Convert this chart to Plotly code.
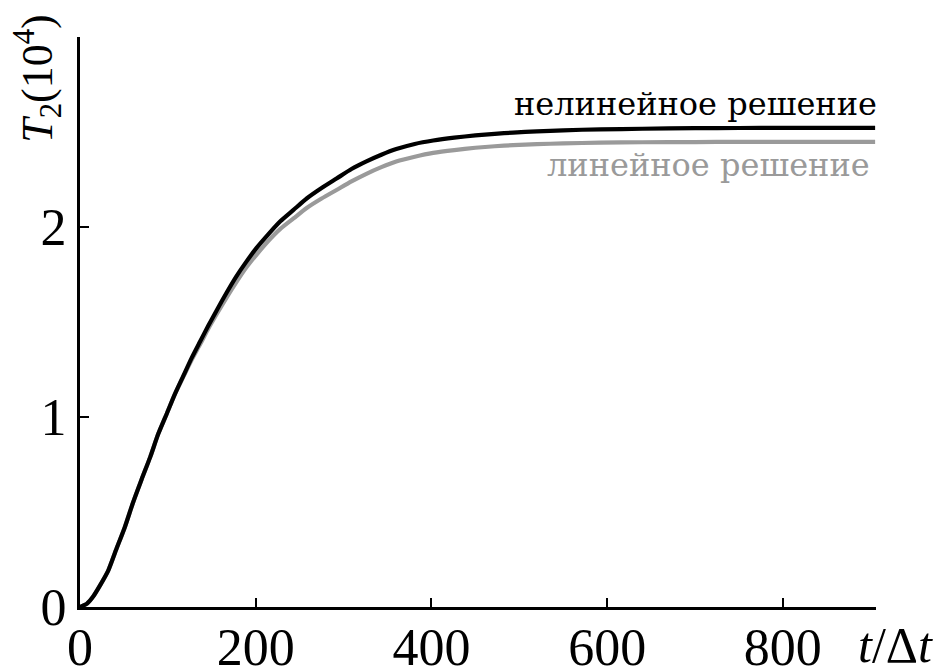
import plotly.graph_objects as go

t_vals = [0, 8, 15, 23, 32, 41, 51, 60, 70, 80, 89, 99, 108, 118, 127, 137, 146, 156, 167, 178, 189, 201, 214, 228, 243, 258, 275, 292, 309, 326, 343, 360, 381, 402, 426, 450, 472, 493, 520, 550, 592, 640, 700, 750, 800, 850, 905]
nonlinear = [0, 0.018, 0.055, 0.115, 0.19, 0.30, 0.42, 0.545, 0.67, 0.79, 0.91, 1.02, 1.12, 1.22, 1.31, 1.40, 1.48, 1.565, 1.655, 1.74, 1.815, 1.89, 1.96, 2.03, 2.09, 2.15, 2.205, 2.255, 2.305, 2.345, 2.38, 2.41, 2.437, 2.455, 2.47, 2.482, 2.49, 2.497, 2.503, 2.509, 2.514, 2.517, 2.520, 2.521, 2.522, 2.522, 2.522]
linear = [0, 0.018, 0.055, 0.115, 0.19, 0.30, 0.42, 0.545, 0.67, 0.79, 0.91, 1.02, 1.12, 1.215, 1.30, 1.385, 1.465, 1.545, 1.63, 1.71, 1.785, 1.855, 1.925, 1.99, 2.045, 2.10, 2.15, 2.195, 2.24, 2.28, 2.315, 2.345, 2.37, 2.39, 2.405, 2.417, 2.425, 2.431, 2.436, 2.44, 2.444, 2.446, 2.447, 2.448, 2.448, 2.448, 2.448]

x_ticks = [0, 200, 400, 600, 800]
y_ticks = [0, 1, 2]

label_nonlinear = "нелинейное решение"
label_linear = "линейное решение"

FONT = "Liberation Serif"
CYR_FONT = "DejaVu Serif"

fig = go.Figure()
fig.add_trace(go.Scatter(x=t_vals, y=linear, mode="lines",
                         line=dict(color="#9a9a9a", width=4.2, shape="spline", smoothing=0.6),
                         hoverinfo="skip", showlegend=False))
fig.add_trace(go.Scatter(x=t_vals, y=nonlinear, mode="lines",
                         line=dict(color="#000000", width=4.2, shape="spline", smoothing=0.6),
                         hoverinfo="skip", showlegend=False))

# page body has an 8px margin; compensate so the plot sits where the reference has it
fig.update_layout(
    width=936, height=661,
    margin=dict(l=72, r=68, t=29, b=62, autoexpand=False),
    plot_bgcolor="white", paper_bgcolor="white",
    font=dict(family=FONT, color="black"),
    xaxis=dict(range=[0, 906], showgrid=False, zeroline=False, automargin=False,
               showline=True, linecolor="black", linewidth=3,
               ticks="inside", ticklen=9, tickwidth=2, tickcolor="black",
               tickvals=x_ticks, ticktext=[str(v) for v in x_ticks],
               ticklabelstandoff=-7,
               tickfont=dict(size=52, family=FONT, color="black")),
    yaxis=dict(range=[0, 3], showgrid=False, zeroline=False, automargin=False,
               showline=True, linecolor="black", linewidth=3,
               ticks="inside", ticklen=9, tickwidth=2, tickcolor="black",
               tickvals=y_ticks, ticktext=[str(v) for v in y_ticks],
               tickfont=dict(size=52, family=FONT, color="black")),
)

fig.add_annotation(x=1.0035, y=0.8817, xref="paper", yref="paper", text=label_nonlinear,
                   showarrow=False, xanchor="right", yanchor="middle",
                   font=dict(size=32, family=CYR_FONT, color="black"))
fig.add_annotation(x=0.9945, y=0.775, xref="paper", yref="paper", text=label_linear,
                   showarrow=False, xanchor="right", yanchor="middle",
                   font=dict(size=32, family=CYR_FONT, color="#9a9a9a"))

fig.add_annotation(x=1.024, y=-0.067, xref="paper", yref="paper",
                   text="<i>t</i>/Δ<i>t</i>", showarrow=False,
                   xanchor="center", yanchor="middle",
                   font=dict(size=50, family=FONT, color="black"))
fig.add_annotation(x=-0.053, y=0.928, xref="paper", yref="paper",
                   text="<i>T</i><sub>2</sub>(10<sup>4</sup>)", showarrow=False,
                   textangle=-90, xanchor="center", yanchor="middle",
                   font=dict(size=44, family=FONT, color="black"))

fig.write_html("out.html")
